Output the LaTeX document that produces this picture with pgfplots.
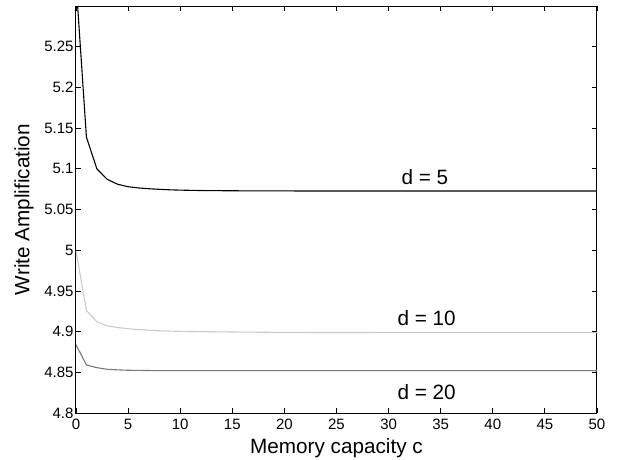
\documentclass[border=0pt]{standalone}
\usepackage{fontspec}
\setmainfont{Liberation Sans}
\usepackage{pgfplots}
\pgfplotsset{compat=1.18}

\definecolor{lightline}{RGB}{205,202,198}
\definecolor{midline}{RGB}{120,120,120}

\begin{document}
\begin{tikzpicture}
\path[use as bounding box] (-76pt,-46pt) rectangle (549pt,413pt);
\begin{axis}[
  at={(0,0)}, anchor=south west,
  width=521pt, height=407pt, scale only axis,
  xmin=0, xmax=50, ymin=4.8, ymax=5.3,
  xtick={0,5,...,50},
  ytick={4.8,4.85,4.9,4.95,5,5.05,5.1,5.15,5.2,5.25},
  yticklabels={4.8,4.85,4.9,4.95,5,5.05,5.1,5.15,5.2,5.25},
  tick align=inside, major tick length=5pt,
  axis line style={line width=1pt}, every tick/.style={line width=0.8pt, black},
  tick label style={font=\fontsize{15}{17}\selectfont},
  xticklabel style={yshift=-2.5pt},
  yticklabel style={xshift=1pt},
  /pgf/number format/assume math mode=true,
  xlabel={Memory capacity c}, ylabel={Write Amplification},
  label style={font=\fontsize{20.7}{23}\selectfont},
  xlabel style={at={(axis description cs:0.5,0)}, anchor=base, yshift=-40pt},
  ylabel style={at={(axis description cs:-0.0998,0.5)}, anchor=center},
  every axis plot/.append style={line width=1.1pt, no markers},
]
\addplot[black] coordinates {
  (0,5.33) (1,5.139) (2,5.100) (3,5.087) (4,5.081) (5,5.078) (6,5.0765)
  (7,5.0755) (8,5.0748) (9,5.0742) (10,5.0738) (12,5.0733) (15,5.0730)
  (20,5.0728) (30,5.0727) (50,5.0727)
};
\addplot[lightline] coordinates {
  (0,4.999) (1,4.926) (2,4.912) (3,4.907) (4,4.905) (5,4.9035) (6,4.9025)
  (8,4.901) (10,4.9003) (15,4.8995) (20,4.899) (30,4.8988) (50,4.8987)
};
\addplot[midline] coordinates {
  (0,4.884) (1,4.859) (2,4.8557) (3,4.8537) (4,4.853) (5,4.8525)
  (8,4.852) (20,4.852) (50,4.852)
};
\node[font=\fontsize{20.7}{23}\selectfont, anchor=base, inner sep=0pt] at (axis cs:33.49,5.0802) {d = 5};
\node[font=\fontsize{20.7}{23}\selectfont, anchor=base, inner sep=0pt] at (axis cs:33.65,4.9069) {d = 10};
\node[font=\fontsize{20.7}{23}\selectfont, anchor=base, inner sep=0pt] at (axis cs:33.65,4.816) {d = 20};
\end{axis}
\end{tikzpicture}
\end{document}
